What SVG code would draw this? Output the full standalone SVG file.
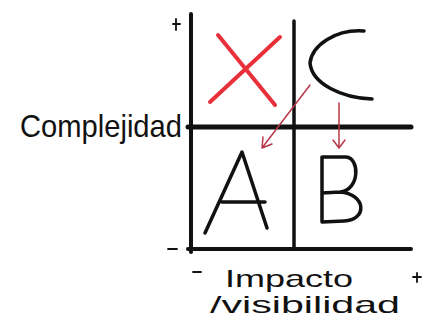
<svg xmlns="http://www.w3.org/2000/svg" width="431" height="320" viewBox="0 0 431 320">
<style>
.ax{stroke:#111;stroke-linecap:round;fill:none}
.ltr{stroke:#111;stroke-width:3.5;stroke-linecap:round;stroke-linejoin:round;fill:none}
.red{stroke:#e8303a;stroke-width:4;stroke-linecap:round;fill:none}
.arr{stroke:#b8384a;stroke-width:1.5;stroke-linecap:round;fill:none}
.txt{font-family:"Comic Sans MS","Liberation Sans",sans-serif;fill:#111}
</style>
<rect width="431" height="320" fill="#fff"/>
<g id="axes">
<line class="ax" x1="191" y1="14" x2="191" y2="252" stroke-width="4"/>
<line class="ax" x1="294" y1="21" x2="294" y2="249" stroke-width="3.5"/>
<line class="ax" x1="188" y1="127" x2="411" y2="127" stroke-width="5"/>
<line class="ax" x1="188" y1="249" x2="411" y2="249" stroke-width="4"/>
<path class="ax" stroke-width="1.8" d="M173 24 L180 24 M176 19 L176 30"/>
<line class="ax" x1="168" y1="249" x2="177" y2="249" stroke-width="1.8"/>
<line class="ax" x1="193" y1="272" x2="201" y2="272" stroke-width="1.8"/>
<path class="ax" stroke-width="1.8" d="M413 277 L421 277 M417 273 L417 282"/>
</g>
<g id="node-X">
<line class="red" x1="218" y1="35" x2="275" y2="105"/>
<line class="red" x1="280" y1="37" x2="210" y2="102"/>
</g>
<g id="node-C">
<path class="ltr" stroke-width="4" d="M364 31 C336 29 312 45 310 63 C312 84 342 98 372 99"/>
</g>
<g id="node-A">
<path class="ltr" d="M205 233 L242 152 L267 228 M222 202 L265 202"/>
</g>
<g id="node-B">
<path class="ltr" d="M322 222 L322 157 L346 157 C360 158 360 190 340 192 L322 193 M340 192 C366 194 368 220 344 221 L322 222"/>
</g>
<g id="connectors">
<path class="arr" d="M310 85 L262 148 M262 148 L263 137 M262 148 L272 144"/>
<path class="arr" d="M339 103 L339 148 M339 148 L333 140 M339 148 L345 140"/>
</g>
<g id="labels">
<text class="txt" x="20" y="137" font-size="32" textLength="162" lengthAdjust="spacingAndGlyphs">Complejidad</text>
<text class="txt" x="225" y="287" font-size="24" textLength="128" lengthAdjust="spacingAndGlyphs">Impacto</text>
<text class="txt" x="210" y="313" font-size="24" textLength="190" lengthAdjust="spacingAndGlyphs">/visibilidad</text>
</g>
</svg>
